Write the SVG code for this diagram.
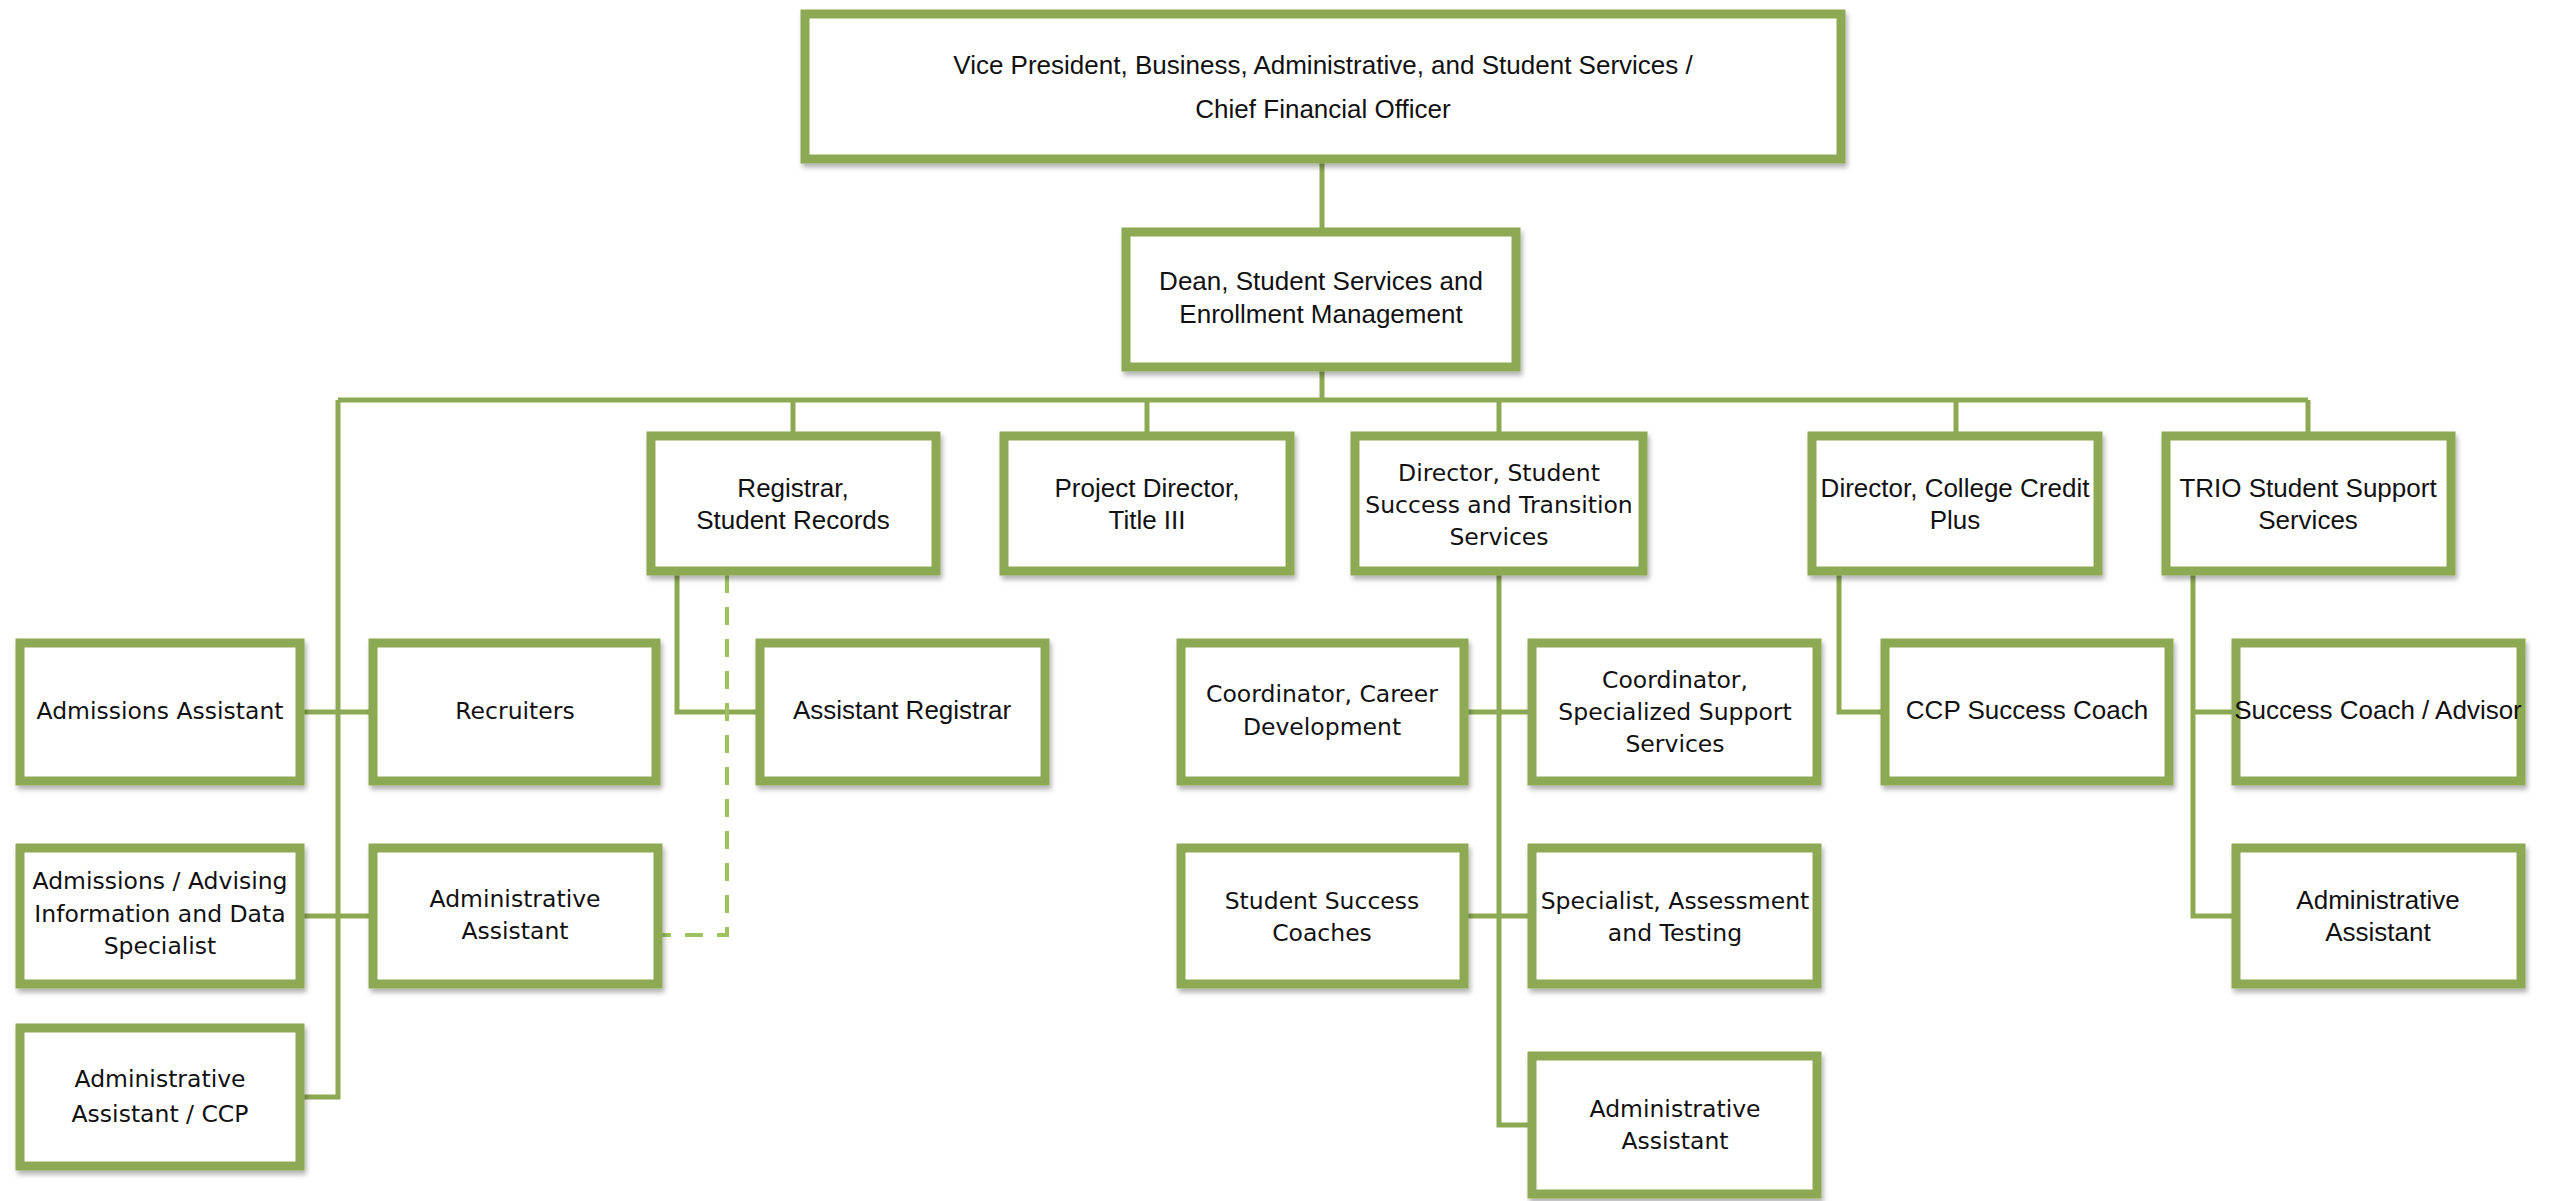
<svg xmlns="http://www.w3.org/2000/svg" width="2549" height="1201" viewBox="0 0 2549 1201">
<defs>
<filter id="sh" x="-5%" y="-5%" width="112%" height="120%">
<feDropShadow dx="2" dy="4" stdDeviation="2.5" flood-color="#000" flood-opacity="0.3"/>
</filter>
<style>
.box{fill:#fff;stroke:#8DA953;stroke-width:9;filter:url(#sh)}
.ln{fill:none;stroke:#8DA953;stroke-width:5}
.dash{fill:none;stroke:#9DC35E;stroke-width:4;stroke-dasharray:18 14}
.n{font-family:"Liberation Sans",Arial,sans-serif;font-size:26px;fill:#111;text-anchor:middle}
.w{font-family:"DejaVu Sans",Verdana,sans-serif;font-size:23.5px;fill:#111;text-anchor:middle}
</style>
</defs>
<rect width="2549" height="1201" fill="#fff"/>
<g id="connectors">
<path class="ln" d="M1322 163V228"/>
<path class="ln" d="M1322 371V400"/>
<path class="ln" d="M338 400H2308"/>
<path class="ln" d="M793 400V432M1147 400V432M1499 400V432M1956 400V432M2308 400V432"/>
<path class="ln" d="M338 400V1097H304"/>
<path class="ln" d="M304 712H369M304 916H369"/>
<path class="ln" d="M677 575V712H756"/>
<path class="dash" d="M727 575V935H662"/>
<path class="ln" d="M1499 575V1125H1528M1468 712H1528M1468 916H1528"/>
<path class="ln" d="M1839 575V712H1881"/>
<path class="ln" d="M2193 575V916H2232M2193 712H2232"/>
</g>
<g id="vp"><rect class="box" x="805" y="14" width="1036" height="145"/>
<text class="n" x="1323" y="74">Vice President, Business, Administrative, and Student Services /</text>
<text class="n" x="1323" y="118">Chief Financial Officer</text></g>
<g id="dean"><rect class="box" x="1126" y="232" width="390" height="135"/>
<text class="n" x="1321" y="290">Dean, Student Services and</text>
<text class="n" x="1321" y="323">Enrollment Management</text></g>
<g id="registrar"><rect class="box" x="651" y="436" width="285" height="135"/>
<text class="n" x="793" y="497">Registrar,</text>
<text class="n" x="793" y="529">Student Records</text></g>
<g id="projdir"><rect class="box" x="1004" y="436" width="286" height="135"/>
<text class="n" x="1147" y="497">Project Director,</text>
<text class="n" x="1147" y="529">Title III</text></g>
<g id="dirss"><rect class="box" x="1355" y="436" width="288" height="135"/>
<text class="w" x="1499" y="481">Director, Student</text>
<text class="w" x="1499" y="513">Success and Transition</text>
<text class="w" x="1499" y="545">Services</text></g>
<g id="dirccp"><rect class="box" x="1812" y="436" width="286" height="135"/>
<text class="n" x="1955" y="497">Director, College Credit</text>
<text class="n" x="1955" y="529">Plus</text></g>
<g id="trio"><rect class="box" x="2166" y="436" width="285" height="135"/>
<text class="n" x="2308" y="497">TRIO Student Support</text>
<text class="n" x="2308" y="529">Services</text></g>
<g id="admasst"><rect class="box" x="20" y="643" width="280" height="138"/>
<text class="w" x="160" y="719">Admissions Assistant</text></g>
<g id="recruiters"><rect class="box" x="373" y="643" width="283" height="138"/>
<text class="w" x="515" y="719">Recruiters</text></g>
<g id="asstreg"><rect class="box" x="760" y="643" width="285" height="138"/>
<text class="n" x="902" y="719">Assistant Registrar</text></g>
<g id="coordcareer"><rect class="box" x="1181" y="643" width="283" height="138"/>
<text class="w" x="1322" y="702">Coordinator, Career</text>
<text class="w" x="1322" y="735">Development</text></g>
<g id="coordspec"><rect class="box" x="1532" y="643" width="285" height="138"/>
<text class="w" x="1675" y="688">Coordinator,</text>
<text class="w" x="1675" y="720">Specialized Support</text>
<text class="w" x="1675" y="752">Services</text></g>
<g id="ccpcoach"><rect class="box" x="1885" y="643" width="284" height="138"/>
<text class="n" x="2027" y="719">CCP Success Coach</text></g>
<g id="triocoach"><rect class="box" x="2236" y="643" width="285" height="138"/>
<text class="n" x="2378" y="719">Success Coach / Advisor</text></g>
<g id="admadv"><rect class="box" x="20" y="848" width="280" height="136"/>
<text class="w" x="160" y="889">Admissions / Advising</text>
<text class="w" x="160" y="922">Information and Data</text>
<text class="w" x="160" y="954">Specialist</text></g>
<g id="adminleft"><rect class="box" x="373" y="848" width="285" height="136"/>
<text class="w" x="515" y="907">Administrative</text>
<text class="w" x="515" y="939">Assistant</text></g>
<g id="sscoaches"><rect class="box" x="1181" y="848" width="283" height="136"/>
<text class="w" x="1322" y="909">Student Success</text>
<text class="w" x="1322" y="941">Coaches</text></g>
<g id="specassess"><rect class="box" x="1532" y="848" width="285" height="136"/>
<text class="w" x="1675" y="909">Specialist, Assessment</text>
<text class="w" x="1675" y="941">and Testing</text></g>
<g id="trioadmin"><rect class="box" x="2236" y="848" width="285" height="136"/>
<text class="n" x="2378" y="909">Administrative</text>
<text class="n" x="2378" y="941">Assistant</text></g>
<g id="adminccp"><rect class="box" x="20" y="1028" width="280" height="138"/>
<text class="w" x="160" y="1087">Administrative</text>
<text class="w" x="160" y="1122">Assistant / CCP</text></g>
<g id="ssadmin"><rect class="box" x="1532" y="1056" width="285" height="138"/>
<text class="w" x="1675" y="1117">Administrative</text>
<text class="w" x="1675" y="1149">Assistant</text></g>
</svg>
